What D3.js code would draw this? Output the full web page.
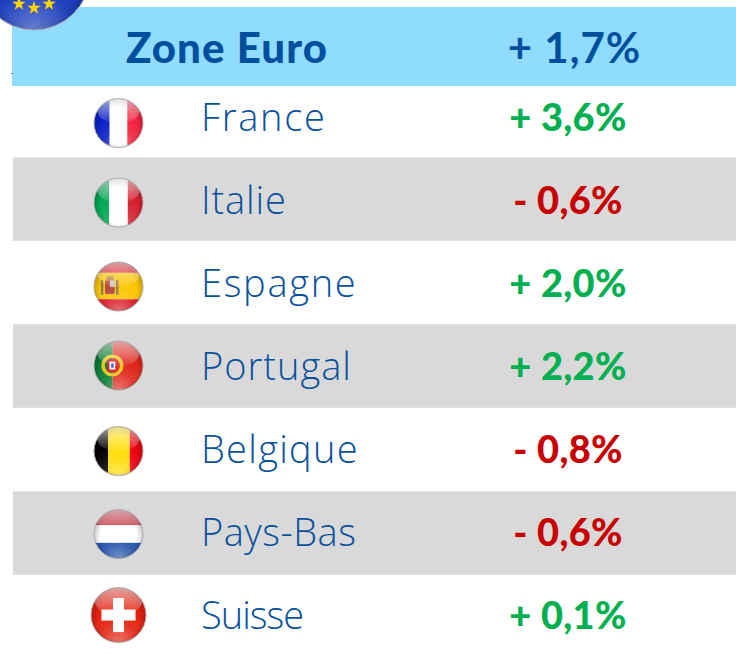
<!DOCTYPE html>
<html><head><meta charset="utf-8">
<script src="https://cdn.jsdelivr.net/npm/d3@7/dist/d3.min.js"></script>
<style>html,body{margin:0;padding:0;background:#fff;overflow:hidden}svg{display:block}text{font-family:Lato,"Open Sans",sans-serif}</style>
</head><body><div id="c"></div>
<script>
const headerLabel = "Zone Euro";
const headerValue = 1.7;
const countries = ["France","Italie","Espagne","Portugal","Belgique","Pays-Bas","Suisse"];
const values = [3.6,-0.6,2.0,2.2,-0.8,-0.6,0.1];
const flagKeys = ["fr","it","es","pt","be","nl","ch"];

const W=736,H=655;
const BLUE="#0a519d",HEAD="#004f9e",GREEN="#00b050",RED="#c80000",GRAY="#d9d9d9",SKY="#8fdcff";
const fmt=v=>(v<0?"- ":"+ ")+Math.abs(v).toFixed(1).replace(".",",")+"%";

const svg=d3.select("#c").append("svg").attr("width",W).attr("height",H);
const defs=svg.append("defs");
const y=d3.scaleBand().domain(countries).range([73.8,658.3]);
const colName=201,colVal=568,flagX=118.5;

svg.selectAll("rect.row").data(countries.filter((d,i)=>i%2==1)).join("rect").attr("class","row")
  .attr("x",13).attr("width",W-13).attr("y",d=>y(d)).attr("height",y.bandwidth()).attr("fill",GRAY);

const gloss=defs.append("linearGradient").attr("id","gloss").attr("x1",0).attr("x2",0).attr("y1",0).attr("y2",1);
gloss.append("stop").attr("offset",0).attr("stop-color","#fff").attr("stop-opacity",.62);
gloss.append("stop").attr("offset",1).attr("stop-color","#fff").attr("stop-opacity",.08);
const glow=defs.append("radialGradient").attr("id","glow").attr("cx",.5).attr("cy",1).attr("r",.62);
glow.append("stop").attr("offset",0).attr("stop-color","#fff").attr("stop-opacity",.38);
glow.append("stop").attr("offset",.55).attr("stop-color","#fff").attr("stop-opacity",.1);
glow.append("stop").attr("offset",1).attr("stop-color","#fff").attr("stop-opacity",0);
const shade=defs.append("radialGradient").attr("id","shade").attr("cx",.5).attr("cy",.55).attr("r",.52);
shade.append("stop").attr("offset",.72).attr("stop-color","#000").attr("stop-opacity",0);
shade.append("stop").attr("offset",1).attr("stop-color","#000").attr("stop-opacity",.22);

function stripes(g,r,colors,stops,horizontal){
  colors.forEach((c,i)=>{
    const a=stops[i]*r,b=stops[i+1]*r;
    const rect=g.append("rect").attr("fill",c);
    if(horizontal) rect.attr("x",-r).attr("width",2*r).attr("y",a).attr("height",b-a);
    else rect.attr("y",-r).attr("height",2*r).attr("x",a).attr("width",b-a);
  });
}
const painters={
 fr:(g,r)=>stripes(g,r,["#0a22c8","#ffffff","#f5233f"],[-1,-.36,.36,1]),
 it:(g,r)=>stripes(g,r,["#00a651","#ffffff","#d6202f"],[-1,-.38,.38,1]),
 es:(g,r)=>{stripes(g,r,["#d8121f","#fcc400","#d8121f"],[-1,-.56,.52,1],true);
   g.append("rect").attr("x",-.72*r).attr("y",-.26*r).attr("width",.1*r).attr("height",.6*r).attr("fill","#8a7a50");
   g.append("rect").attr("x",-.1*r).attr("y",-.26*r).attr("width",.1*r).attr("height",.6*r).attr("fill","#8a7a50");
   g.append("rect").attr("x",-.55*r).attr("y",-.26*r).attr("width",.4*r).attr("height",.56*r).attr("rx",.06*r).attr("fill","#b5453a");
   g.append("rect").attr("x",-.35*r).attr("y",-.26*r).attr("width",.2*r).attr("height",.28*r).attr("fill","#cfc6c0");
   g.append("rect").attr("x",-.5*r).attr("y",-.42*r).attr("width",.3*r).attr("height",.16*r).attr("fill","#b5843a");},
 pt:(g,r)=>{stripes(g,r,["#0a7d36","#e0261c"],[-1,-.24,1]);
   g.append("circle").attr("cx",-.25*r).attr("r",.38*r).attr("fill","none").attr("stroke","#e6c51d").attr("stroke-width",.14*r);
   g.append("rect").attr("x",-.46*r).attr("y",-.26*r).attr("width",.42*r).attr("height",.52*r).attr("rx",.08*r).attr("fill","#d81e1e");
   g.append("rect").attr("x",-.37*r).attr("y",-.16*r).attr("width",.24*r).attr("height",.32*r).attr("fill","#fff");
   g.append("rect").attr("x",-.3*r).attr("y",-.09*r).attr("width",.1*r).attr("height",.18*r).attr("fill","#2b56b5");},
 be:(g,r)=>stripes(g,r,["#000000","#ffdc00","#ee0010"],[-1,-.42,.46,1]),
 nl:(g,r)=>stripes(g,r,["#c22435","#ffffff","#1e4ea8"],[-1,-.36,.36,1],true),
 ch:(g,r)=>{g.append("rect").attr("x",-r).attr("y",-r).attr("width",2*r).attr("height",2*r).attr("fill","#e3200f");
   g.append("rect").attr("x",-.62*r).attr("y",-.2*r).attr("width",1.24*r).attr("height",.4*r).attr("fill","#fff");
   g.append("rect").attr("x",-.2*r).attr("y",-.62*r).attr("width",.4*r).attr("height",1.24*r).attr("fill","#fff");},
 eu:(g,r)=>{g.append("circle").attr("r",r).attr("fill","#0a2fb8");}
};
function ball(cx,cy,r,key){
  const id="clip-"+key;
  defs.append("clipPath").attr("id",id).append("circle").attr("r",r);
  const g=svg.append("g").attr("transform",`translate(${cx},${cy})`);
  const inner=g.append("g").attr("clip-path",`url(#${id})`);
  painters[key](inner,r);
  inner.append("circle").attr("r",r).attr("fill","url(#shade)");
  inner.append("circle").attr("r",r).attr("fill","url(#glow)");
  inner.append("ellipse").attr("cy",-.5*r).attr("rx",.86*r).attr("ry",.52*r).attr("fill","url(#gloss)");
  g.append("circle").attr("r",r).attr("fill","none").attr("stroke","#a9a9a9").attr("stroke-width",1);
  return g;
}

svg.append("rect").attr("x",12).attr("y",7).attr("width",W-12).attr("height",79).attr("fill",SKY);
svg.append("rect").attr("x",11).attr("y",73).attr("width",2).attr("height",1).attr("fill","#3a7fd0");

const eu=ball(34,-26,56,"eu");
const star=d3.symbol().type(d3.symbolStar).size(58);
d3.range(12).forEach(i=>{
  const a=i*Math.PI/6;
  eu.append("path").attr("d",star).attr("fill","#ffd500")
    .attr("transform",`translate(${30*Math.sin(a)},${4+30*Math.cos(a)})`);
});

svg.append("text").attr("x",227).attr("y",63).attr("text-anchor","middle")
  .attr("font-size",42).attr("font-weight",900).attr("letter-spacing",1.1).attr("fill",HEAD).text(headerLabel);
svg.append("text").attr("x",574.5).attr("y",63).attr("text-anchor","middle")
  .attr("font-size",42).attr("font-weight",700).attr("letter-spacing",1).attr("fill",HEAD).text(fmt(headerValue));

const flagDy=[7.5,3.5,4,-0.5,1.5,1,-1.5], flagR=[24.5,24.5,24.5,24.5,24.5,24.5,27.5];
countries.forEach((c,i)=>ball(flagX,y(c)+y.bandwidth()/2+flagDy[i],flagR[i],flagKeys[i]));

const textDy=[15,14.5,14.5,13.5,13.5,13,12.5];
const nameSpacing=[1.7,0.9,1.7,1.0,1.3,0.5,-1.0];
svg.selectAll("text.name").data(countries).join("text").attr("class","name")
  .attr("x",colName).attr("y",(d,i)=>y(d)+y.bandwidth()/2+textDy[i])
  .attr("font-size",38).attr("fill",BLUE)
  .style("font-family","'Open Sans'").style("font-weight",300)
  .attr("letter-spacing",(d,i)=>nameSpacing[i]).text(d=>d);
svg.selectAll("text.val").data(values).join("text").attr("class","val")
  .attr("x",colVal).attr("y",(d,i)=>y(countries[i])+y.bandwidth()/2+textDy[i])
  .attr("text-anchor","middle").attr("font-size",38).attr("font-weight",900).attr("letter-spacing",.3)
  .attr("fill",d=>d<0?RED:GREEN).text(fmt);
</script></body></html>
